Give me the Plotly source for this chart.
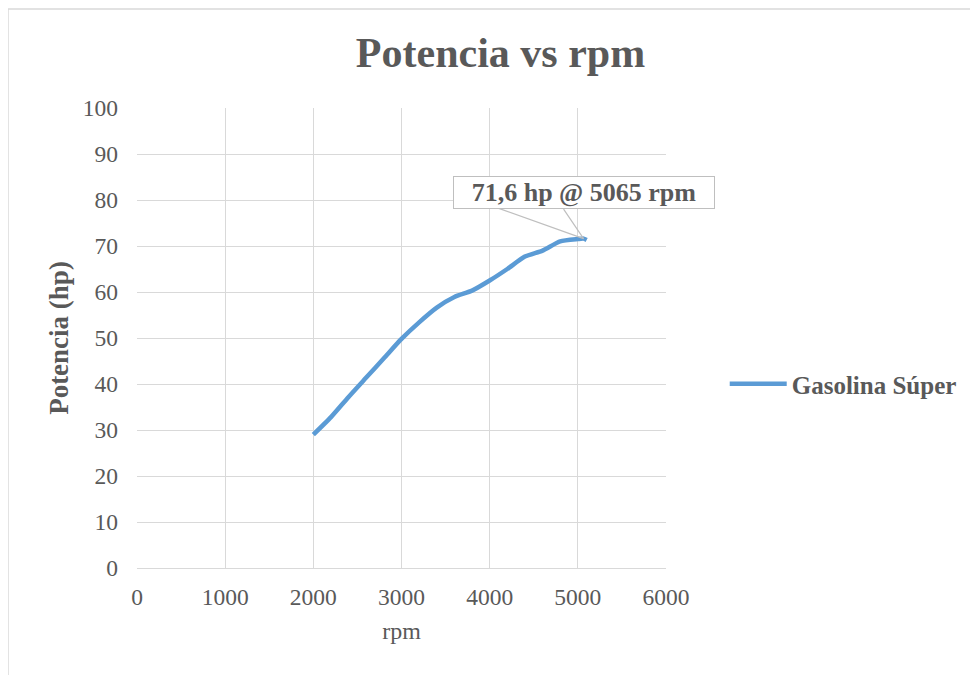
import plotly.graph_objects as go

rpm = [2000, 2200, 2400, 2600, 2800, 3000, 3200, 3400, 3600, 3800,
       4000, 4200, 4400, 4600, 4800, 5000, 5065, 5100]
hp = [29.0, 32.8, 37.2, 41.4, 45.6, 49.8, 53.4, 56.6, 58.9, 60.3,
      62.5, 65.0, 67.7, 69.0, 71.0, 71.5, 71.6, 71.3]

peak_rpm = 5065
peak_hp = 71.6

GRAY = "#595959"
GRID = "#d9d9d9"
FONT = "Liberation Serif"

fig = go.Figure()
fig.add_trace(go.Scatter(
    x=rpm, y=hp, mode="lines", name="Gasolina Súper",
    line=dict(color="#5b9bd5", width=4.5, shape="spline", smoothing=0.6),
))

# callout wedge
for ax in (-87, -21):
    fig.add_annotation(x=peak_rpm, y=peak_hp, text="", showarrow=True,
                       ax=ax, ay=-31, arrowhead=0, arrowwidth=1.2,
                       arrowcolor="#bfbfbf", standoff=0)
fig.add_annotation(
    x=peak_rpm, y=peak_hp, text="<b>71,6 hp @ 5065 rpm</b>", showarrow=False,
    yshift=46, width=258, height=29, bgcolor="white",
    bordercolor="#bfbfbf", borderwidth=1,
    font=dict(family=FONT, size=26, color=GRAY),
)

# chart border
fig.add_shape(type="rect", xref="paper", yref="paper",
              x0=-0.2439, x1=1.65, y0=-0.30, y1=1.2152,
              line=dict(color=GRID, width=1.5), layer="below")

fig.update_layout(
    width=978, height=675,
    margin=dict(l=129, r=320, t=100, b=115),
    paper_bgcolor="white", plot_bgcolor="white",
    font=dict(family=FONT, color=GRAY, size=24),
    title=dict(text="<b>Potencia vs rpm</b>", x=0.5036, xanchor="center",
               y=0.935, yanchor="middle",
               font=dict(family=FONT, size=42, color=GRAY)),
    showlegend=True,
    legend=dict(x=1.111, y=0.4, xanchor="left", yanchor="middle",
                font=dict(family=FONT, size=25, color=GRAY, weight="bold"),
                itemwidth=57),
    xaxis=dict(range=[0, 6000], dtick=1000, showgrid=True, gridcolor=GRID,
               gridwidth=1.3, zeroline=False, showline=True, linecolor=GRID,
               ticks="", ticklabelstandoff=8,
               title=dict(text="rpm", font=dict(size=24), standoff=12),
               tickfont=dict(size=23.5)),
    yaxis=dict(range=[0, 100], dtick=10, showgrid=True, gridcolor=GRID,
               gridwidth=1.3, zeroline=False, showline=False, ticks="",
               ticklabelstandoff=18,
               title=dict(text="<b>Potencia (hp)</b>", font=dict(size=27), standoff=6),
               tickfont=dict(size=23.5)),
)

fig.write_html("out.html")
